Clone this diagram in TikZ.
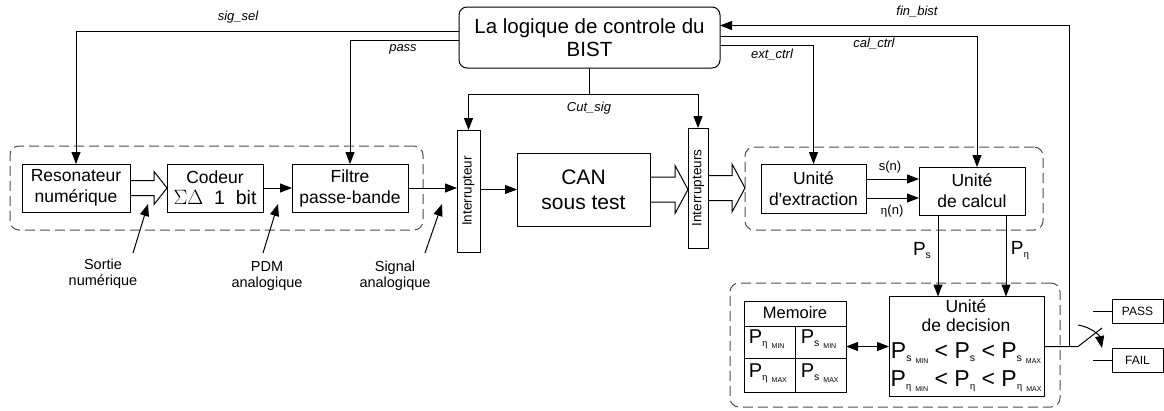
\documentclass[tikz,border=0pt]{standalone}
\usepackage{fontspec}
\setmainfont{Liberation Sans}
\newfontfamily\grkfont{Liberation Serif}
\usetikzlibrary{arrows.meta,calc}

\newcommand\etasym{{\grkfont η}}
\newcommand\pval[1]{P\raisebox{-3pt}{\fontsize{10.5}{10.5}\selectfont #1}}
\newcommand\plim[2]{\pval{#1}\hspace{4pt}\raisebox{-5.5pt}{\fontsize{7}{7}\selectfont #2}}
\newcommand\busarrow[4]{%
  \draw let \p1=(#1.east), \p2=(#2.west) in
    (\x1,\y1+#3pt) -- (\x2-13pt,\y1+#3pt) -- (\x2-13pt,\y1+#4pt) -- (\x2,\y1)
    -- (\x2-13pt,\y1-#4pt) -- (\x2-13pt,\y1-#3pt) -- (\x1,\y1-#3pt);}

\begin{document}
\begin{tikzpicture}[x=1pt,y=-1pt,line width=1pt,
    blk/.style={draw,inner sep=0pt,outer sep=0pt,align=center,font=\fontsize{17.5}{21}\selectfont},
    grp/.style={draw=black!70,dash pattern=on 10pt off 5pt,rounded corners=9pt,inner sep=0pt,outer sep=0pt},
    sig/.style={font=\fontsize{13}{15}\selectfont\itshape},
    note/.style={align=center,font=\fontsize{14.5}{16}\selectfont},
    arr/.style={-{Triangle[length=12pt,width=9pt]}}]
  \useasboundingbox (0,0) rectangle (1164,410);

  \node[grp,minimum width=413,minimum height=84] (gen) at (216.5,188) {};
  \node[grp,minimum width=298,minimum height=83] (ana) at (894,188.5) {};
  \node[grp,minimum width=330,minimum height=124] (decgrp) at (895,345) {};

  \node[blk,minimum width=261,minimum height=61,rounded corners=8pt,
        font=\fontsize{20.5}{23}\selectfont] (bist) at (589.5,37.5) {La logique de controle du\\BIST};
  \node[blk,minimum width=108,minimum height=48] (res) at (76,188) {Resonateur\\numérique};
  \node[blk,minimum width=96,minimum height=48] (cod) at (215,188)
    {Codeur\\{\fontsize{19.5}{21}\selectfont$\Sigma\Delta$\ \ 1\ \ bit}};
  \node[blk,minimum width=116,minimum height=48] (fil) at (350,188) {Filtre\\passe-bande};
  \node[blk,minimum width=23,minimum height=122] (int1) at (468.5,191) {};
  \node[rotate=90,font=\fontsize{13.5}{15}\selectfont] (tint1) at (int1) {Interrupteur};
  \node[blk,minimum width=133,minimum height=73,font=\fontsize{21}{25}\selectfont] (can) at (583.5,189.5) {CAN\\sous test};
  \node[blk,minimum width=20,minimum height=120] (int2) at (698,188) {};
  \node[rotate=90,font=\fontsize{13.5}{15}\selectfont] (tint2) at (int2) {Interrupteurs};
  \node[blk,minimum width=105,minimum height=49] (ext) at (813.5,188.5) {Unité\\d\textquotesingle extraction};
  \node[blk,minimum width=106,minimum height=48] (calc) at (972,191) {Unité\\de calcul};
  \node[blk,minimum width=155,minimum height=100] (dec) at (966.5,346.5) {};
  \node[blk,minimum width=102,minimum height=91] (mem) at (795,346.5) {};
  \node[blk,minimum width=51,minimum height=24,font=\fontsize{12}{13}\selectfont] (pass) at (1137.5,311) {PASS};
  \node[blk,minimum width=51,minimum height=24,font=\fontsize{12}{13}\selectfont] (fail) at (1137.5,360) {FAIL};

  \node[align=center,font=\fontsize{17.5}{19}\selectfont] (tdec) at (966,316) {Unité\\de decision};
  \node[anchor=base,font=\fontsize{23}{25}\selectfont] (ineqs) at (966,358)
    {\plim{s}{MIN} < \pval{s} < \plim{s}{MAX}};
  \node[anchor=base,font=\fontsize{23}{25}\selectfont] (ineqe) at (966,386)
    {\plim{\etasym}{MIN} < \pval{\etasym} < \plim{\etasym}{MAX}};

  \draw (mem.west |- 0,326) -- (mem.east |- 0,326);
  \draw (mem.west |- 0,358) -- (mem.east |- 0,358);
  \draw (mem.center |- 0,326) -- (mem.south);
  \node[anchor=base,font=\fontsize{16.5}{18}\selectfont] (tmem) at (795,318) {Memoire};
  \node[anchor=base west,font=\fontsize{20}{20}\selectfont] (mpemin) at (745,343) {\plim{\etasym}{MIN}};
  \node[anchor=base west,font=\fontsize{20}{20}\selectfont] (mpsmin) at (797,343) {\plim{s}{MIN}};
  \node[anchor=base west,font=\fontsize{20}{20}\selectfont] (mpemax) at (745,377) {\plim{\etasym}{MAX}};
  \node[anchor=base west,font=\fontsize{20}{20}\selectfont] (mpsmax) at (797,377) {\plim{s}{MAX}};

  \busarrow{res}{cod}{7.5}{16.5}
  \busarrow{can}{int2}{12.5}{24}
  \busarrow{int2}{ana}{12.5}{24}
  \draw[arr] (cod.east) -- (cod.east -| fil.west);
  \draw[arr] (fil.east) -- (fil.east -| int1.west);
  \draw[arr] (can.west -| int1.east) -- (can.west);
  \draw[arr] ([yshift=9.5pt]ext.east) -- ([yshift=9.5pt]ext.east -| calc.west);
  \draw[arr] ([yshift=-9.5pt]ext.east) -- ([yshift=-9.5pt]ext.east -| calc.west);
  \node[font=\fontsize{13}{14}\selectfont] (lsn) at (890,167) {s(n)};
  \node[font=\fontsize{13}{14}\selectfont] (len) at (892,211) {\etasym(n)};

  \draw[arr] ([yshift=6.5pt]bist.west) -| (res.north);
  \draw[arr] ([yshift=-3pt]bist.west) -| (fil.north);
  \node[sig] (lsigsel) at (238,17) {sig\_sel};
  \node[sig] (lpass) at (403,49) {pass};

  \coordinate (cut) at (bist.south |- 0,94);
  \draw (bist.south) -- (cut);
  \draw[arr] (cut) -| (int1.north);
  \draw[arr] (cut) -| (int2.north);
  \node[sig] (lcut) at (589,108) {Cut\_sig};

  \draw[arr] ([yshift=-8pt]bist.east) -| (ext.north);
  \draw[arr] ([yshift=1.5pt]bist.east) -| ([xshift=5pt]calc.north);
  \node[sig] (lext) at (772,55) {ext\_ctrl};
  \node[sig] (lcal) at (874,44) {cal\_ctrl};

  \draw[arr] ([xshift=-34pt]calc.south) -- ([xshift=-34pt]calc.south |- dec.north);
  \draw[arr] ([xshift=34pt]calc.south) -- ([xshift=34pt]calc.south |- dec.north);
  \node[font=\fontsize{19}{20}\selectfont] (lps) at (922,251) {\pval{s}};
  \node[font=\fontsize{19}{20}\selectfont] (lpe) at (1020,251) {\pval{\etasym}};

  \draw[{Triangle[length=12pt,width=9pt]}-{Triangle[length=12pt,width=9pt]}] (mem.east) -- (mem.east -| dec.west);

  \coordinate (jn) at (1069,346.5);
  \coordinate (sw) at (1078,346.5);
  \coordinate (swb) at (1102,328);
  \coordinate (rota) at (1078,325);
  \coordinate (rotb) at (1102,348);
  \draw (dec.east) -- (sw) -- (swb);
  \draw[arr] (jn) |- ([yshift=12pt]bist.east);
  \node[sig] (lfin) at (917,12) {fin\_bist};
  \draw[arr] (rota) to[bend left=35] (rotb);
  \draw (pass.west) -- ++(-19pt,0);
  \draw (fail.west) -- ++(-19pt,0);

  \node[note] (lsort) at (103,274) {Sortie\\numérique};
  \node[note] (lpdm) at (267,276) {PDM\\analogique};
  \node[note] (lsgl) at (395,276) {Signal\\analogique};
  \coordinate (hsort) at (148,204);
  \coordinate (hpdm) at (278,204);
  \coordinate (hsgl) at (442,204);
  \draw[arr] (133,253) -- (hsort);
  \draw[arr] (263,253) -- (hpdm);
  \draw[arr] (425,253) -- (hsgl);
\end{tikzpicture}
\end{document}
